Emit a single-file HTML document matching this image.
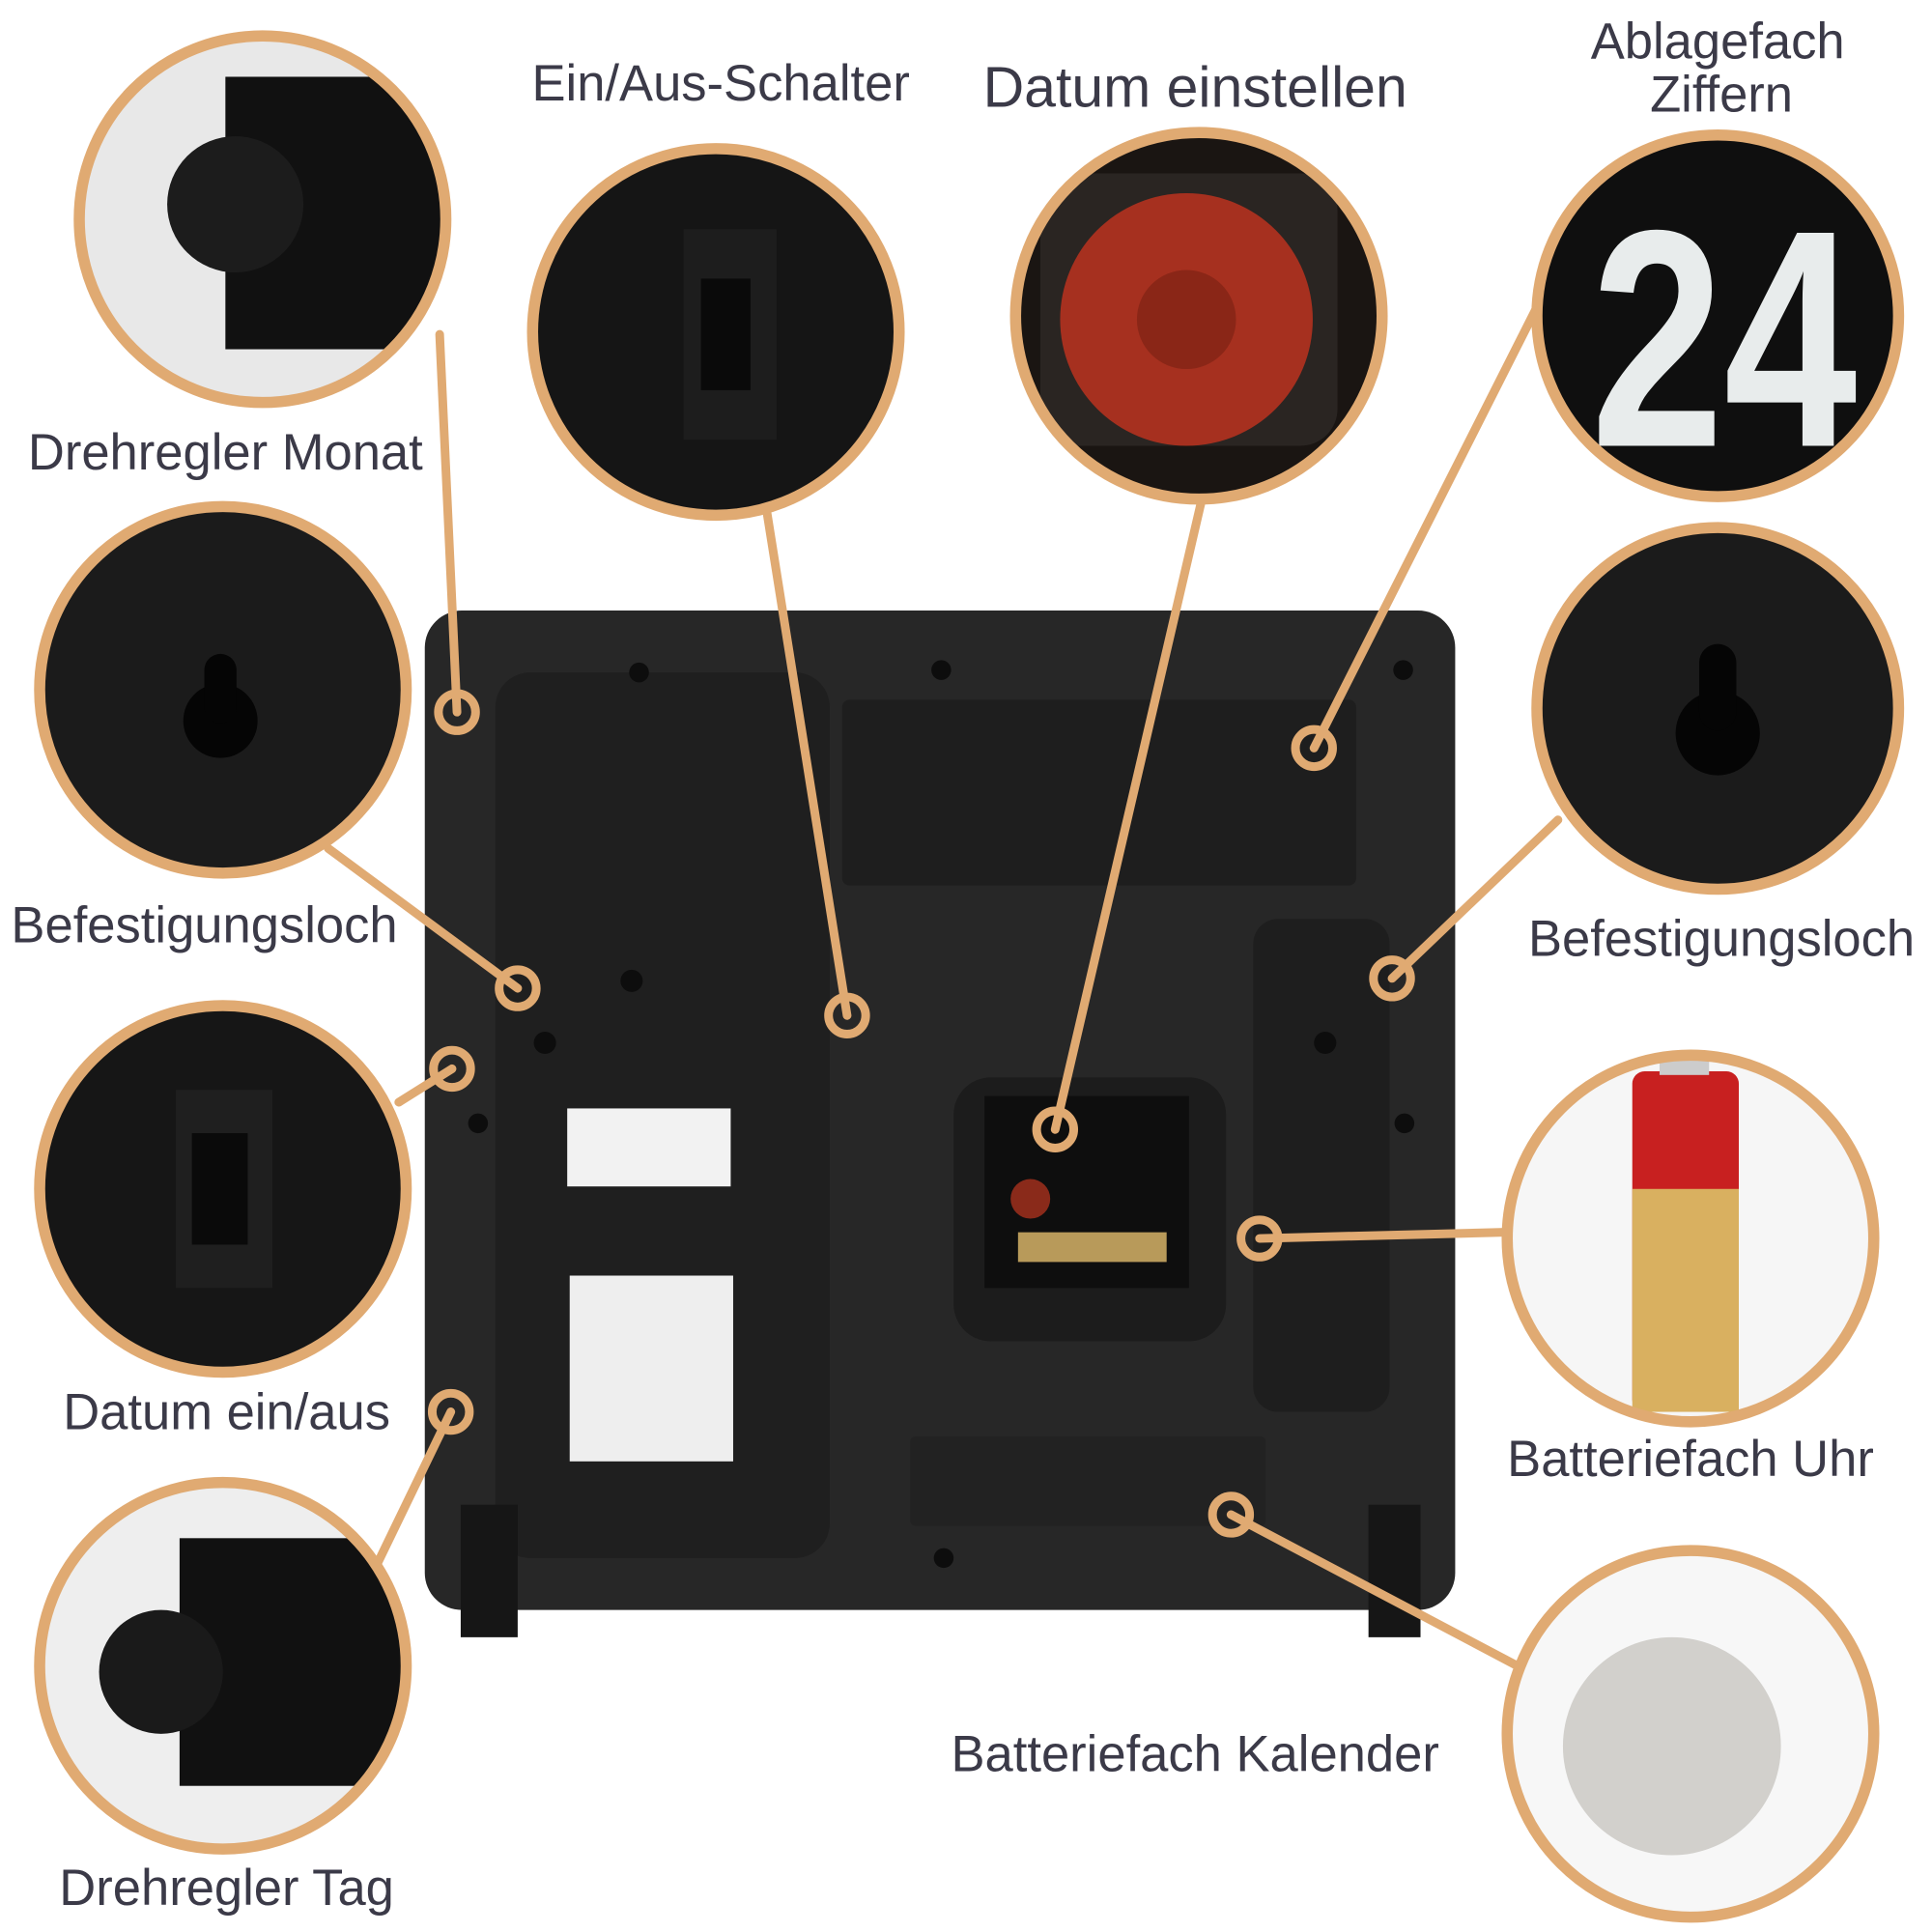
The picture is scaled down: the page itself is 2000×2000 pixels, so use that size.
<!DOCTYPE html>
<html><head><meta charset="utf-8"><style>
html,body{margin:0;padding:0;background:#fff;}
svg{display:block;}
text{font-family:"Liberation Sans",sans-serif;fill:#3b3a48;}
</style></head><body>
<svg width="2000" height="2000" viewBox="0 0 1560 1560" xmlns="http://www.w3.org/2000/svg">
<defs>
<clipPath id="c1"><circle cx="212" cy="177" r="146"/></clipPath>
<clipPath id="c2"><circle cx="578" cy="268" r="146"/></clipPath>
<clipPath id="c3"><circle cx="968" cy="255" r="146"/></clipPath>
<clipPath id="c4"><circle cx="1387" cy="255" r="144"/></clipPath>
<clipPath id="c5"><circle cx="180" cy="557" r="146"/></clipPath>
<clipPath id="c6"><circle cx="1387" cy="572" r="144"/></clipPath>
<clipPath id="c7"><circle cx="180" cy="960" r="146"/></clipPath>
<clipPath id="c8"><circle cx="1365" cy="1000" r="146"/></clipPath>
<clipPath id="c9"><circle cx="180" cy="1345" r="146"/></clipPath>
<clipPath id="c10"><circle cx="1365" cy="1400" r="146"/></clipPath>
</defs>

<rect x="343" y="493" width="832" height="807" rx="30" fill="#272727"/>
<rect x="400" y="543" width="270" height="715" rx="28" fill="#1f1f1f"/>
<rect x="680" y="565" width="415" height="150" rx="6" fill="#1e1e1e"/>
<rect x="1012" y="742" width="110" height="398" rx="20" fill="#1e1e1e"/>
<rect x="770" y="870" width="220" height="213" rx="30" fill="#1c1c1c"/>
<rect x="795" y="885" width="165" height="155" fill="#0e0e0e"/>
<rect x="822" y="995" width="120" height="24" fill="#b89a5a"/>
<circle cx="832" cy="968" r="16" fill="#8a2a1a"/>
<rect x="735" y="1160" width="287" height="72" rx="4" fill="#222"/>
<rect x="372" y="1215" width="46" height="107" fill="#161616"/>
<rect x="1105" y="1215" width="42" height="107" fill="#161616"/>
<rect x="458" y="895" width="132" height="63" fill="#f2f2f2"/>
<rect x="460" y="1030" width="132" height="150" fill="#eeeeee"/>
<g fill="#0d0d0d">
<circle cx="516" cy="543" r="8"/><circle cx="760" cy="541" r="8"/><circle cx="1133" cy="541" r="8"/>
<circle cx="510" cy="792" r="9"/><circle cx="386" cy="907" r="8"/><circle cx="1134" cy="907" r="8"/>
<circle cx="762" cy="1258" r="8"/><circle cx="440" cy="842" r="9"/><circle cx="1070" cy="842" r="9"/>
</g>

<g stroke="#e0aa72" stroke-width="7" fill="none" stroke-linecap="round">
<line x1="369" y1="575" x2="355" y2="270"/>
<line x1="418" y1="798" x2="265" y2="685"/>
<line x1="365" y1="863" x2="322" y2="890"/>
<line x1="364" y1="1140" x2="305" y2="1262"/>
<line x1="684" y1="820" x2="619" y2="412"/>
<line x1="852" y1="912" x2="970" y2="405"/>
<line x1="1061" y1="604" x2="1245" y2="240"/>
<line x1="1124" y1="790" x2="1258" y2="662"/>
<line x1="1017" y1="1000" x2="1215" y2="995"/>
<line x1="994" y1="1223" x2="1225" y2="1345"/>
<circle cx="369" cy="575" r="15"/><circle cx="418" cy="798" r="15"/><circle cx="365" cy="863" r="15"/>
<circle cx="364" cy="1140" r="15"/><circle cx="684" cy="820" r="15"/><circle cx="852" cy="912" r="15"/>
<circle cx="1061" cy="604" r="15"/><circle cx="1124" cy="790" r="15"/><circle cx="1017" cy="1000" r="15"/>
<circle cx="994" cy="1223" r="15"/>
</g>

<g clip-path="url(#c1)"><rect x="60" y="20" width="320" height="320" fill="#e8e8e8"/><rect x="182" y="62" width="200" height="220" fill="#111"/><circle cx="190" cy="165" r="55" fill="#1c1c1c"/></g>
<g clip-path="url(#c2)"><rect x="420" y="110" width="320" height="320" fill="#151515"/><rect x="552" y="185" width="75" height="170" fill="#1d1d1d"/><rect x="566" y="225" width="40" height="90" fill="#0a0a0a"/></g>
<g clip-path="url(#c3)"><rect x="810" y="100" width="320" height="320" fill="#1a1512"/><rect x="840" y="140" width="240" height="220" rx="30" fill="#2a2522"/><circle cx="958" cy="258" r="102" fill="#a6301f"/><circle cx="958" cy="258" r="40" fill="#8a2617"/></g>
<g clip-path="url(#c4)"><rect x="1230" y="100" width="320" height="320" fill="#0f0f0f"/><text x="1392" y="360" font-size="250" font-weight="bold" text-anchor="middle" style="fill:#e8ecec" textLength="215" lengthAdjust="spacingAndGlyphs">24</text></g>
<g clip-path="url(#c5)"><rect x="20" y="400" width="320" height="320" fill="#1b1b1b"/><circle cx="178" cy="582" r="30" fill="#050505"/><rect x="165" y="528" width="26" height="56" rx="13" fill="#050505"/></g>
<g clip-path="url(#c6)"><rect x="1230" y="420" width="320" height="320" fill="#1b1b1b"/><circle cx="1387" cy="592" r="34" fill="#050505"/><rect x="1372" y="520" width="30" height="70" rx="15" fill="#050505"/></g>
<g clip-path="url(#c7)"><rect x="20" y="800" width="320" height="320" fill="#161616"/><rect x="142" y="880" width="78" height="160" fill="#1f1f1f"/><rect x="155" y="915" width="45" height="90" fill="#0a0a0a"/></g>
<g clip-path="url(#c8)"><rect x="1210" y="850" width="320" height="320" fill="#f6f6f6"/><rect x="1318" y="865" width="86" height="275" rx="10" fill="#c82020"/><rect x="1318" y="960" width="86" height="180" fill="#d9b060"/><rect x="1340" y="852" width="40" height="16" fill="#ccc"/></g>
<g clip-path="url(#c9)"><rect x="20" y="1190" width="320" height="320" fill="#eeeeee"/><rect x="145" y="1242" width="200" height="200" fill="#111"/><circle cx="130" cy="1350" r="50" fill="#1a1a1a"/></g>
<g clip-path="url(#c10)"><rect x="1210" y="1250" width="320" height="320" fill="#f7f7f7"/><circle cx="1350" cy="1410" r="88" fill="#d2d0cc"/></g>

<g stroke="#e0aa72" stroke-width="9" fill="none">
<circle cx="212" cy="177" r="148"/><circle cx="578" cy="268" r="148"/><circle cx="968" cy="255" r="148"/>
<circle cx="1387" cy="255" r="146"/><circle cx="180" cy="557" r="148"/><circle cx="1387" cy="572" r="146"/>
<circle cx="180" cy="960" r="148"/><circle cx="1365" cy="1000" r="148"/><circle cx="180" cy="1345" r="148"/>
<circle cx="1365" cy="1400" r="148"/>
</g>

<g font-size="41" text-anchor="middle">
<text x="182" y="379">Drehregler Monat</text>
<text x="582" y="81">Ein/Aus-Schalter</text>
<text x="965" y="86" font-size="46">Datum einstellen</text>
<text x="1387" y="47">Ablagefach</text>
<text x="1390" y="90">Ziffern</text>
<text x="165" y="761">Befestigungsloch</text>
<text x="1390" y="772">Befestigungsloch</text>
<text x="183" y="1154">Datum ein/aus</text>
<text x="1365" y="1192">Batteriefach Uhr</text>
<text x="965" y="1430">Batteriefach Kalender</text>
<text x="183" y="1538">Drehregler Tag</text>
</g>
</svg>
</body></html>
